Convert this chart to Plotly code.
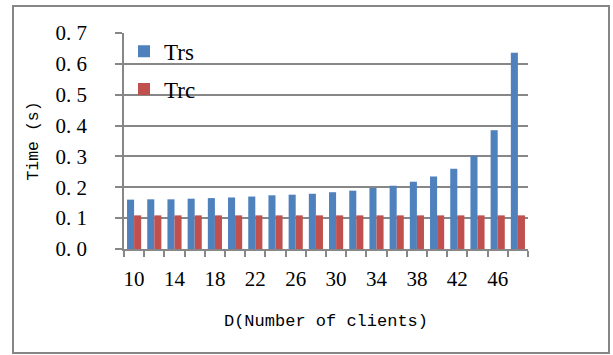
import plotly.graph_objects as go

clients = [10, 12, 14, 16, 18, 20, 22, 24, 26, 28, 30, 32, 34, 36, 38, 40, 42, 44, 46, 48]
trs = [0.160, 0.161, 0.161, 0.163, 0.165, 0.167, 0.170, 0.174, 0.176, 0.179,
       0.184, 0.189, 0.198, 0.205, 0.218, 0.235, 0.260, 0.302, 0.385, 0.636]
trc = [0.109] * 20
y_ticks = [0.0, 0.1, 0.2, 0.3, 0.4, 0.5, 0.6, 0.7]

cats = [str(c) for c in clients]
x_ticktext = [c if i % 2 == 0 else "" for i, c in enumerate(cats)]
y_ticktext = [f"{v:.1f}".replace(".", ". ") for v in y_ticks]

SERIF = "Liberation Serif, Times New Roman, serif"
MONO = "Liberation Mono, Courier New, monospace"

fig = go.Figure()
fig.add_trace(go.Bar(x=cats, y=trs, name="Trs", marker=dict(color="#4F81BD", line=dict(width=0)),
                     legendgroup="a"))
fig.add_trace(go.Bar(x=cats, y=trc, name="Trc", marker=dict(color="#C0504D", line=dict(width=0)),
                     legendgroup="b"))

fig.update_layout(
    width=613, height=355,
    margin=dict(l=124, r=85, t=33, b=106),
    paper_bgcolor="white", plot_bgcolor="white",
    barmode="group", bargap=0.3, bargroupgap=0.0,
    showlegend=True,
    legend=dict(x=0.0, y=1.015, xanchor="left", yanchor="top",
                font=dict(family=SERIF, size=23, color="#000"),
                bgcolor="rgba(0,0,0,0)", tracegroupgap=5,
                itemwidth=30),
    xaxis=dict(
        type="category", tickmode="array", tickvals=cats, ticktext=x_ticktext,
        tickson="boundaries", ticks="outside", ticklen=6, tickwidth=1.5, tickcolor="#878787",
        tickangle=0,
        showline=True, linecolor="#878787", linewidth=1.5, showgrid=False,
        tickfont=dict(family=SERIF, size=21, color="#000"),
        ticklabelstandoff=10,
        title=dict(text="D(Number of clients)", font=dict(family=MONO, size=17, color="#000"), standoff=24),
    ),
    yaxis=dict(
        range=[0, 0.7], tickmode="array", tickvals=y_ticks, ticktext=y_ticktext,
        ticks="outside", ticklen=7, tickwidth=1.5, tickcolor="#878787",
        showline=True, linecolor="#878787", linewidth=1.5,
        showgrid=True, gridcolor="#878787", gridwidth=1.5, zeroline=False,
        tickfont=dict(family=SERIF, size=21, color="#000"),
        ticklabelstandoff=24,
        title=dict(text="Time (s)", font=dict(family=MONO, size=16.5, color="#000"), standoff=13),
    ),
    shapes=[dict(type="rect", xref="paper", yref="paper",
                 x0=(13 - 124) / 404, x1=(609 - 124) / 404,
                 y0=(249 - 353) / 216, y1=(249 - 6) / 216,
                 line=dict(color="#868686", width=2), fillcolor="rgba(0,0,0,0)", layer="below")],
)

fig.write_html("out.html", config={"displayModeBar": False},
               post_script="document.body.style.margin='0';document.body.style.overflow='hidden';")
